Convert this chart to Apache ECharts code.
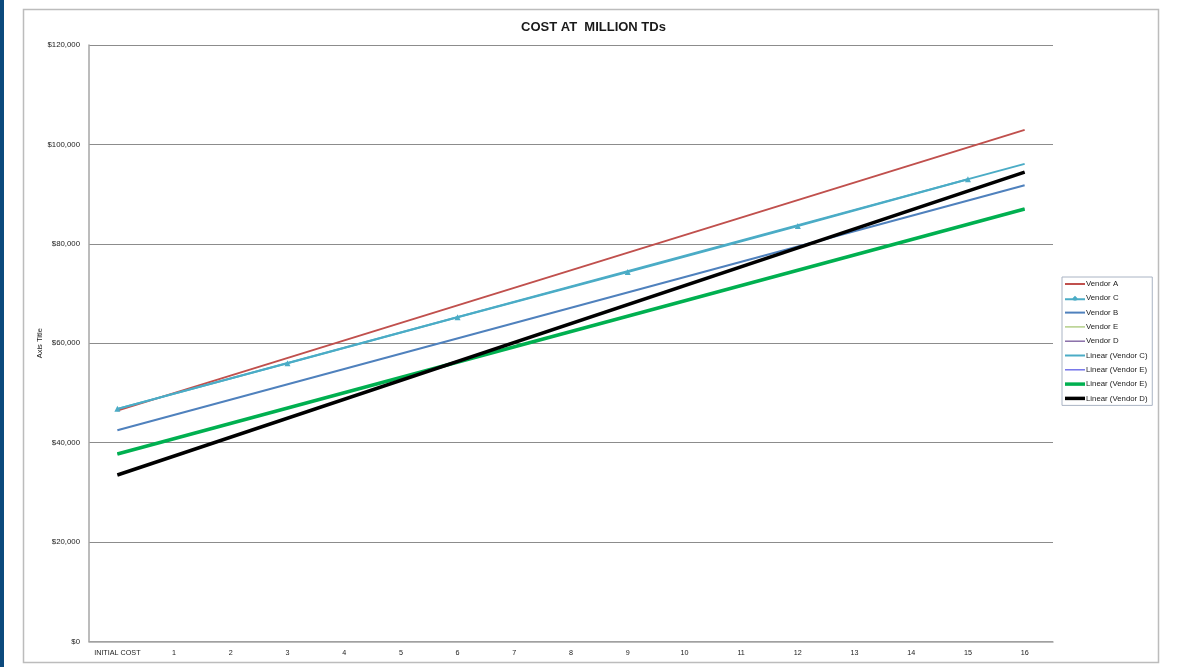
<!DOCTYPE html>
<html>
<head>
<meta charset="utf-8">
<title>COST AT MILLION TDs</title>
<script src="https://cdn.jsdelivr.net/npm/echarts@6/dist/echarts.min.js"></script>
<style>
  html, body { margin: 0; padding: 0; background: #ffffff; }
  #chart { width: 1189px; height: 667px; }
</style>
</head>
<body>
<div id="chart"></div>
<script>
// Category labels along the bottom axis
const categories = ['INITIAL COST', '1', '2', '3', '4', '5', '6', '7', '8',
  '9', '10', '11', '12', '13', '14', '15', '16'];

// Value axis ticks
const yTicks = [0, 20000, 40000, 60000, 80000, 100000, 120000];

// Vendor series: [category, cost]
const vendorA = [['INITIAL COST', 46440], ['16', 102920]];
const vendorC = [['INITIAL COST', 46800], ['3', 55980], ['6', 65230], ['9', 74350], ['12', 83600], ['15', 93000]];
const vendorB = [['INITIAL COST', 42500], ['16', 91790]];
const vendorE = [['INITIAL COST', 37730], ['16', 87020]];
const vendorD = [['INITIAL COST', 33500], ['16', 94410]];

// Linear trend lines: [category, cost]
const linearC = [['INITIAL COST', 46780], ['16', 96080]];
const linearEThin = [['INITIAL COST', 37730], ['16', 87020]];
const linearE = [['INITIAL COST', 37730], ['16', 87020]];
const linearD = [['INITIAL COST', 33500], ['16', 94410]];

const FONT = '"Liberation Sans", Arial, sans-serif';

// Legend swatches: a short stroke of the series' line width
const ICON_THIN = 'path://M0,0H20V1.4H0Z';
const ICON_MED = 'path://M0,0H20V2H0Z';
const ICON_THICK = 'path://M0,0H20V3.5H0Z';
const ICON_TRI = 'path://M0,3H7.5L10,0.5L12.5,3H20V5H12.5L10,5.5L7.5,5H0Z';

function toPoints(list) {
  return list.map(function (p) { return [categories.indexOf(p[0]), p[1]]; });
}

function money(v) {
  return '$' + String(Math.round(v)).replace(/\B(?=(\d{3})+(?!\d))/g, ',');
}

function lineSeries(name, data, color, width, extra) {
  return Object.assign({
    name: name,
    type: 'line',
    data: toPoints(data),
    connectNulls: true,
    symbol: 'none',
    silent: true,
    lineStyle: { color: color, width: width },
    itemStyle: { color: color }
  }, extra || {});
}

const chart = echarts.init(document.getElementById('chart'), null, { renderer: 'canvas' });

chart.setOption({
  animation: false,
  backgroundColor: '#ffffff',
  textStyle: { fontFamily: FONT },
  graphic: [
    { type: 'rect', left: 0, top: 0, shape: { width: 4, height: 667 },
      style: { fill: '#0c4a7d' }, z: -10 },
    { type: 'rect', shape: { x: 23.5, y: 9.5, width: 1135, height: 653 },
      style: { fill: 'none', stroke: '#bcbcbc', lineWidth: 1.5 }, z: -10 }
  ],
  title: {
    text: 'COST AT  MILLION TDs',
    left: 516,
    top: 16,
    textStyle: { fontFamily: FONT, fontSize: 13, fontWeight: 'bold', color: '#1a1a1a' }
  },
  legend: {
    orient: 'vertical',
    left: 1062,
    top: 277,
    padding: [3, 3, 3, 3],
    itemWidth: 20,
    itemHeight: 10,
    itemGap: 6.3,
    borderColor: '#aab4c4',
    borderWidth: 1,
    textStyle: { fontFamily: FONT, fontSize: 7.8, color: '#1a1a1a', padding: [0, 0, 0, -4] },
    data: [
      { name: 'Vendor A', icon: ICON_MED },
      { name: 'Vendor C', icon: ICON_TRI },
      { name: 'Vendor B', icon: ICON_MED },
      { name: 'Vendor E', icon: ICON_THIN },
      { name: 'Vendor D', icon: ICON_THIN },
      { name: 'Linear (Vendor C)', icon: ICON_MED },
      { name: 'Linear (Vendor E) ', icon: ICON_THIN },
      { name: 'Linear (Vendor E)', icon: ICON_THICK },
      { name: 'Linear (Vendor D)', icon: ICON_THICK }
    ]
  },
  grid: { left: 89, right: 136, top: 45, bottom: 25.5, containLabel: false },
  xAxis: {
    type: 'category',
    data: categories,
    boundaryGap: true,
    axisLine: { lineStyle: { color: '#a6a6a6', width: 1.5 } },
    axisTick: { show: false },
    axisLabel: { fontFamily: FONT, fontSize: 7.2, color: '#1a1a1a', margin: 8, interval: 0 }
  },
  yAxis: {
    type: 'value',
    min: yTicks[0],
    max: yTicks[yTicks.length - 1],
    interval: yTicks[1] - yTicks[0],
    name: 'Axis Title',
    nameLocation: 'middle',
    nameRotate: 90,
    nameGap: 45,
    nameMoveOverlap: false,
    nameTextStyle: { fontFamily: FONT, fontSize: 7.5, color: '#1a1a1a' },
    axisLine: { show: true, lineStyle: { color: '#a6a6a6', width: 1.5 } },
    axisTick: { show: false },
    axisLabel: { fontFamily: FONT, fontSize: 7.8, color: '#1a1a1a', margin: 9, formatter: money },
    splitLine: { lineStyle: { color: '#8c8c8c', width: 1 } }
  },
  series: [
    lineSeries('Vendor A', vendorA, '#c0504d', 2),
    lineSeries('Vendor C', vendorC, '#4bacc6', 2, { symbol: 'triangle', symbolSize: 6, showSymbol: true }),
    lineSeries('Vendor B', vendorB, '#4f81bd', 2),
    lineSeries('Vendor E', vendorE, '#aecb80', 1),
    lineSeries('Vendor D', vendorD, '#8064a2', 1),
    lineSeries('Linear (Vendor C)', linearC, '#4bacc6', 2),
    lineSeries('Linear (Vendor E) ', linearEThin, '#6a6ae8', 1),
    lineSeries('Linear (Vendor E)', linearE, '#00b050', 3.5),
    lineSeries('Linear (Vendor D)', linearD, '#000000', 3.5)
  ]
});
</script>
</body>
</html>
